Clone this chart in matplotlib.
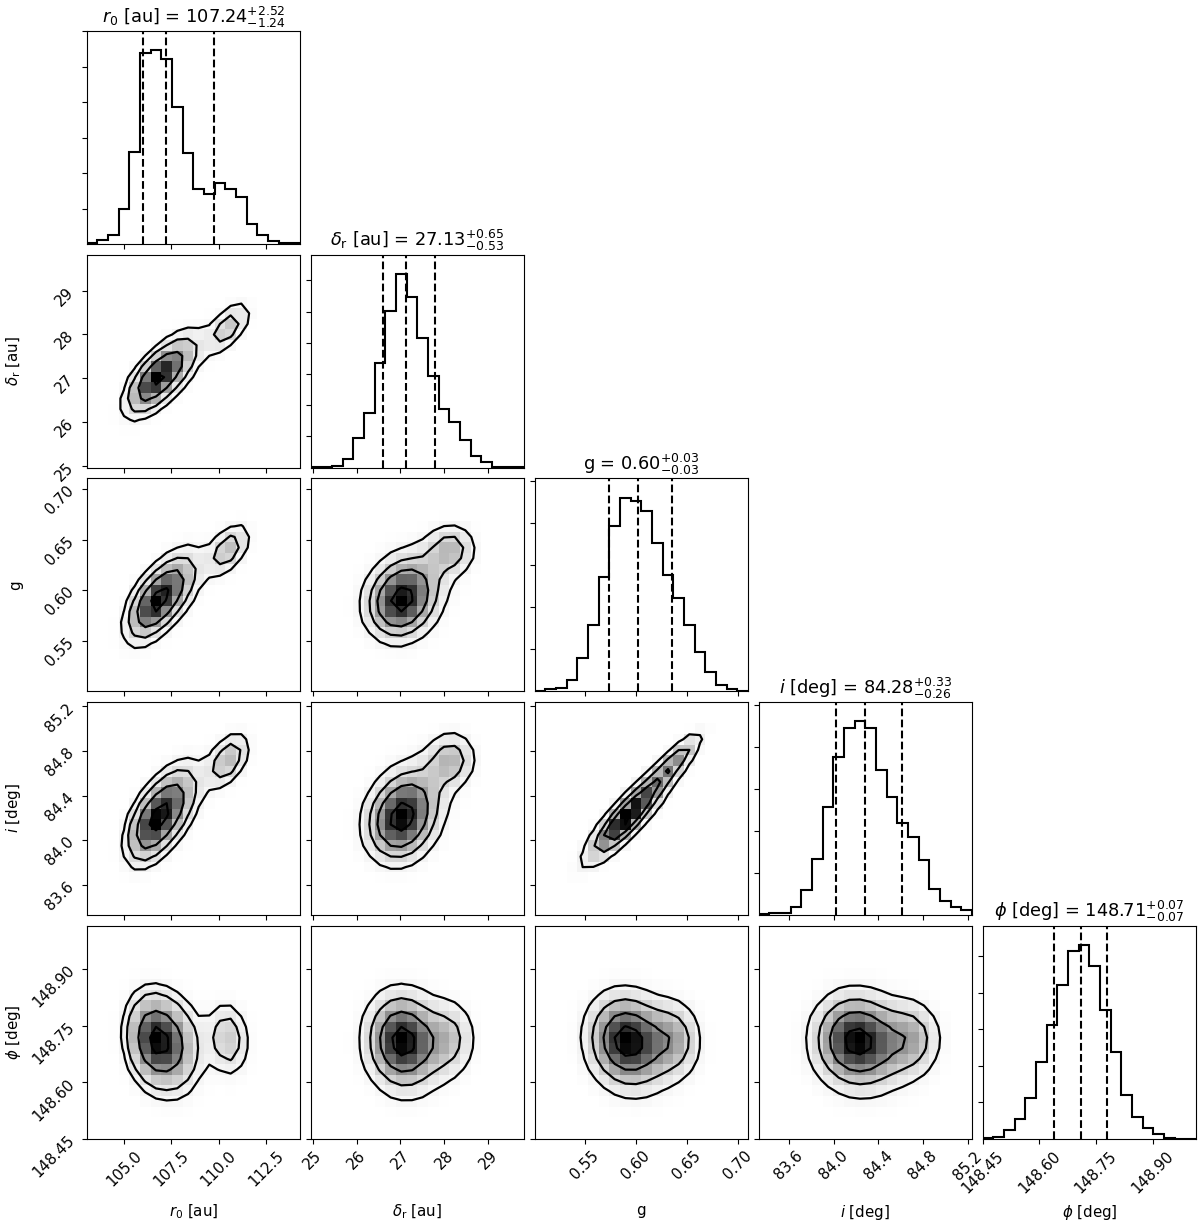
import numpy as np
import matplotlib
matplotlib.use("Agg")
import matplotlib.pyplot as plt
from matplotlib.colors import PowerNorm

plt.rcParams["font.size"] = 10.8
plt.rcParams["axes.titlesize"] = 12.8

# parameter names, plot ranges and ticks
labels = [r"$r_0$ [au]", r"$\delta_\mathrm{r}$ [au]", "g", r"$i$ [deg]", r"$\phi$ [deg]"]
ranges = [(103.03, 114.30), (24.95, 29.82), (0.501, 0.710), (83.33, 85.24), (148.45, 149.015)]
tick_values = [[105.0, 107.5, 110.0, 112.5],
               [25, 26, 27, 28, 29],
               [0.55, 0.60, 0.65, 0.70],
               [83.6, 84.0, 84.4, 84.8, 85.2],
               [148.45, 148.60, 148.75, 148.90]]
tick_labels = [["105.0", "107.5", "110.0", "112.5"],
               ["25", "26", "27", "28", "29"],
               ["0.55", "0.60", "0.65", "0.70"],
               ["83.6", "84.0", "84.4", "84.8", "85.2"],
               ["148.45", "148.60", "148.75", "148.90"]]

# 1D histogram heights, 20 bins each (arbitrary count units)
hist_r0 = [2, 11, 28, 105, 276, 574, 581, 554, 412, 273, 166, 151, 182, 164, 140, 60, 28, 8, 2, 2]
hist_dr = [1, 1, 6, 25, 88, 165, 315, 471, 583, 515, 389, 275, 177, 138, 83, 35, 16, 3, 2, 1]
hist_g = [2, 6, 9, 34, 99, 199, 343, 494, 579, 569, 538, 445, 348, 280, 197, 119, 59, 20, 8, 2]
hist_i = [3, 5, 7, 25, 74, 169, 324, 472, 560, 580, 561, 435, 355, 277, 233, 164, 78, 43, 23, 14]
hist_phi = [3, 5, 26, 60, 123, 229, 341, 461, 563, 580, 516, 384, 260, 132, 66, 31, 14, 3, 0, 0]
hists = [hist_r0, hist_dr, hist_g, hist_i, hist_phi]
hist_tick_step = [106.3, 94.0, 125.5, 126.0, 109.3]

# 16th / 50th / 84th percentiles
q16 = [106.00, 26.60, 0.574, 84.02, 148.64]
q50 = [107.24, 27.13, 0.602, 84.28, 148.71]
q84 = [109.76, 27.78, 0.636, 84.61, 148.78]

# 2D posterior shape, described as three blobs estimated from the panels
comp_weight = [0.46, 0.37, 0.17]
comp_mean = [[106.45, 26.90, 0.585, 84.14, 148.715],
             [107.70, 27.30, 0.605, 84.35, 148.695],
             [110.50, 28.15, 0.640, 84.72, 148.715]]
comp_sigma = [[0.85, 0.46, 0.022, 0.22, 0.076],
              [0.92, 0.49, 0.024, 0.24, 0.080],
              [0.72, 0.36, 0.016, 0.16, 0.064]]
corr = [[1.00, 0.60, 0.50, 0.45, -0.10],
        [0.60, 1.00, 0.02, 0.05, 0.00],
        [0.50, 0.02, 1.00, 0.85, -0.05],
        [0.45, 0.05, 0.85, 1.00, 0.00],
        [-0.10, 0.00, -0.05, 0.00, 1.00]]

levels = 1.0 - np.exp(-0.5 * np.arange(0.5, 2.1, 0.5) ** 2)
nbins = 20
K = len(labels)


def density(a, b, X, Y):
    H = np.zeros_like(X)
    for w, mu, sd in zip(comp_weight, comp_mean, comp_sigma):
        rho = corr[a][b]
        dx = (X - mu[a]) / sd[a]
        dy = (Y - mu[b]) / sd[b]
        z = (dx ** 2 - 2 * rho * dx * dy + dy ** 2) / (1 - rho ** 2)
        H += w * np.exp(-0.5 * z) / (2 * np.pi * sd[a] * sd[b] * np.sqrt(1 - rho ** 2))
    return H


fig, axes = plt.subplots(K, K, figsize=(12, 12.26), dpi=100)
fig.subplots_adjust(left=0.0722, right=0.9967, bottom=0.0712, top=0.9747,
                    wspace=0.05, hspace=0.05)

for row in range(K):
    for col in range(K):
        ax = axes[row, col]
        if col > row:
            ax.set_axis_off()
            continue

        xr = ranges[col]
        if col == row:
            # marginal histogram
            counts = np.array(hists[col], dtype=float)
            edges = np.linspace(xr[0], xr[1], nbins + 1)
            ax.stairs(counts, edges, color="k", lw=1.5)
            top = 1.1 * counts.max()
            ax.set_ylim(0, top)
            ax.set_yticks(np.arange(hist_tick_step[col], top + 1, hist_tick_step[col]))
            ax.set_yticklabels([])
            for q in (q16[col], q50[col], q84[col]):
                ax.axvline(q, ls="dashed", color="k", lw=1.5)
            title = "{0} = ${1:.2f}_{{-{2:.2f}}}^{{+{3:.2f}}}$".format(
                labels[col], q50[col], q50[col] - q16[col], q84[col] - q50[col])
            ax.set_title(title)
        else:
            yr = ranges[row]
            xe = np.linspace(xr[0], xr[1], nbins + 1)
            ye = np.linspace(yr[0], yr[1], nbins + 1)
            dx = xe[1] - xe[0]
            dy = ye[1] - ye[0]
            xc = 0.5 * (xe[1:] + xe[:-1])
            yc = 0.5 * (ye[1:] + ye[:-1])
            X, Y = np.meshgrid(xc, yc)
            H = density(col, row, X, Y)
            ax.pcolormesh(xe, ye, H, cmap="gray_r",
                          norm=PowerNorm(gamma=1.7, vmin=0, vmax=H.max()), shading="flat")

            # contour levels enclosing the given fractions of the mass
            Hflat = np.sort(H.flatten())[::-1]
            sm = np.cumsum(Hflat)
            sm /= sm[-1]
            V = np.array([Hflat[sm <= v0][-1] if np.any(sm <= v0) else Hflat[0] for v0 in levels])
            V.sort()

            xc2 = np.concatenate([xc[0] - dx * np.arange(3, 0, -1), xc, xc[-1] + dx * np.arange(1, 4)])
            yc2 = np.concatenate([yc[0] - dy * np.arange(3, 0, -1), yc, yc[-1] + dy * np.arange(1, 4)])
            X2, Y2 = np.meshgrid(xc2, yc2)
            H2 = density(col, row, X2, Y2)
            ax.contour(X2, Y2, H2, V, colors="k", linewidths=1.6)
            ax.set_ylim(yr)
            ax.set_yticks(tick_values[row])
            if col == 0:
                ax.set_yticklabels(tick_labels[row], rotation=45)
                ax.set_ylabel(labels[row])
                ax.yaxis.set_label_coords(-0.3, 0.5)
            else:
                ax.set_yticklabels([])

        ax.set_xlim(xr)
        ax.set_xticks(tick_values[col])
        if row == K - 1:
            ax.set_xticklabels(tick_labels[col], rotation=45)
            ax.set_xlabel(labels[col])
            ax.xaxis.set_label_coords(0.5, -0.3)
        else:
            ax.set_xticklabels([])

fig.savefig("out.png", dpi=100)
